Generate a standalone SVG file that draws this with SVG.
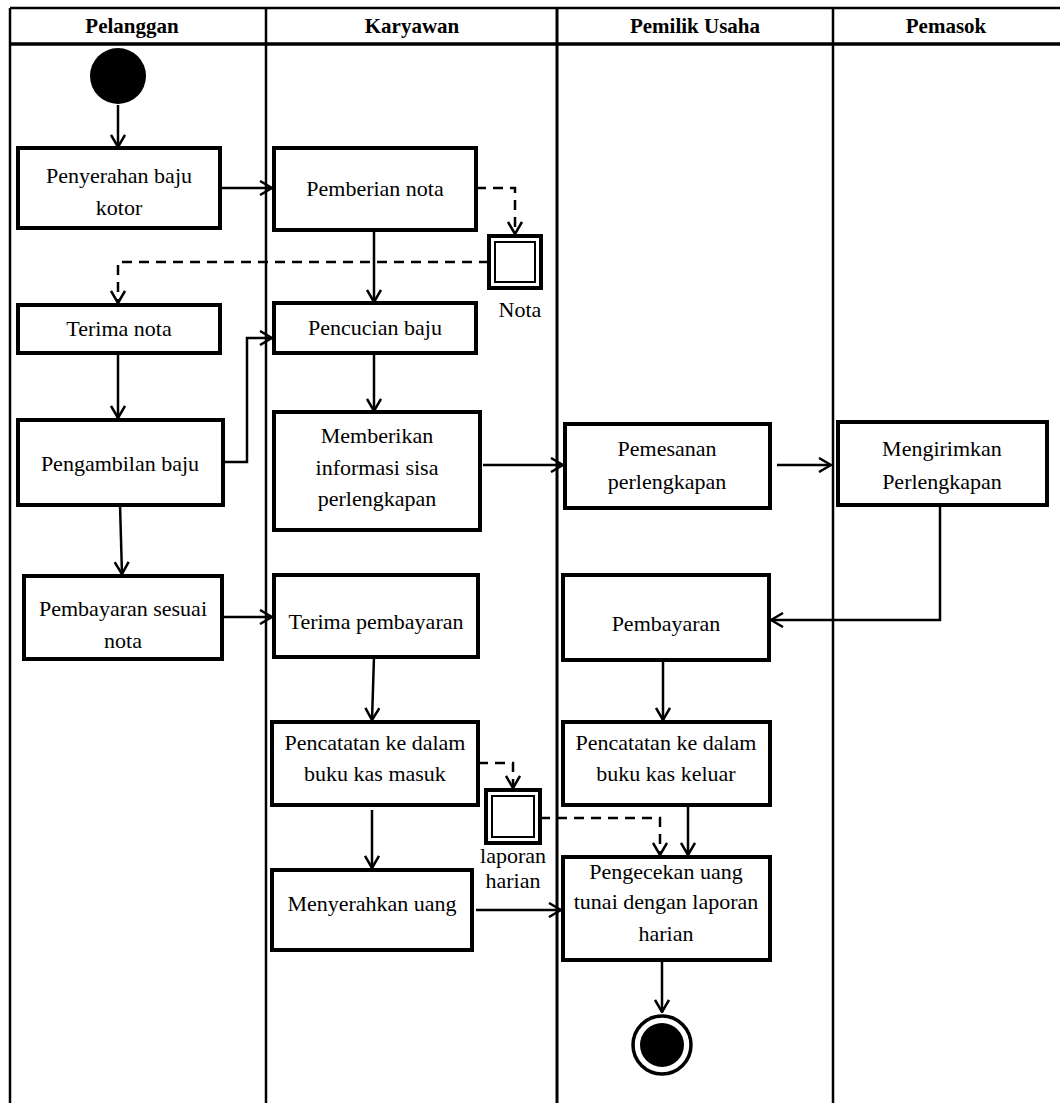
<svg xmlns="http://www.w3.org/2000/svg" width="1060" height="1103" viewBox="0 0 1060 1103">
<defs>
<marker id="ah" viewBox="0 0 14 16" refX="13" refY="8" markerWidth="14" markerHeight="16" markerUnits="userSpaceOnUse" orient="auto">
<path d="M1,1 L13,8 L1,15" fill="none" stroke="#000" stroke-width="2.5"/>
</marker>
</defs>
<rect width="1060" height="1103" fill="#fff"/>
<g id="lanes" stroke="#000" stroke-width="2.5" fill="none">
<line x1="10" y1="8" x2="1060" y2="8"/>
<line x1="10" y1="44" x2="1060" y2="44" stroke-width="3.5"/>
<line x1="10" y1="8" x2="10" y2="1103"/>
<line x1="266" y1="8" x2="266" y2="1103"/>
<line x1="557" y1="8" x2="557" y2="1103" stroke-width="3"/>
<line x1="833" y1="8" x2="833" y2="1103"/>
</g>
<text x="132" y="33" font-family="Liberation Serif" font-weight="bold" font-size="21" text-anchor="middle">Pelanggan</text>
<text x="412" y="33" font-family="Liberation Serif" font-weight="bold" font-size="21" text-anchor="middle">Karyawan</text>
<text x="695" y="33" font-family="Liberation Serif" font-weight="bold" font-size="21" text-anchor="middle">Pemilik Usaha</text>
<text x="946" y="33" font-family="Liberation Serif" font-weight="bold" font-size="21" text-anchor="middle">Pemasok</text>
<g id="connectors" stroke="#000" stroke-width="2.5" fill="none" marker-end="url(#ah)">
<path d="M118,105 L118,147"/>
<path d="M220,188 L272,188"/>
<path d="M476,188 L515,188 L515,234" stroke-dasharray="10 7"/>
<path d="M374,230 L374,302"/>
<path d="M489,262 L118,262 L118,303" stroke-dasharray="10 7"/>
<path d="M118,353 L118,418"/>
<path d="M223,462 L247,462 L247,338 L272,338"/>
<path d="M374,353 L374,411"/>
<path d="M483,465 L563,465"/>
<path d="M777,465 L831,465"/>
<path d="M940,505 L940,620 L771,620"/>
<path d="M120,505 L122,574"/>
<path d="M222,617 L272,617"/>
<path d="M374,657 L372,720"/>
<path d="M663,660 L663,720"/>
<path d="M478,763 L513,763 L513,788" stroke-dasharray="10 7"/>
<path d="M372,810 L372,868"/>
<path d="M540,818 L660,818 L660,855" stroke-dasharray="10 7"/>
<path d="M688,805 L688,855"/>
<path d="M476,910 L561,910"/>
<path d="M662,960 L662,1012"/>
</g>
<g id="start"><circle cx="118" cy="76" r="28" fill="#000"/></g>
<g id="n1"><rect x="18" y="148" width="202" height="80" fill="#fff" stroke="#000" stroke-width="4"/><text x="119" y="183" font-family="Liberation Serif" font-size="22" text-anchor="middle">Penyerahan baju</text><text x="119" y="215" font-family="Liberation Serif" font-size="22" text-anchor="middle">kotor</text></g>
<g id="n2"><rect x="274" y="148" width="202" height="82" fill="#fff" stroke="#000" stroke-width="4"/><text x="375" y="196" font-family="Liberation Serif" font-size="22" text-anchor="middle">Pemberian nota</text></g>
<g id="nota"><rect x="489" y="236" width="52" height="52" fill="#fff" stroke="#000" stroke-width="4"/><rect x="495" y="242" width="40" height="40" fill="#fff" stroke="#000" stroke-width="2"/><text x="520" y="317" font-family="Liberation Serif" font-size="22" text-anchor="middle">Nota</text></g>
<g id="n3"><rect x="18" y="305" width="202" height="48" fill="#fff" stroke="#000" stroke-width="4"/><text x="119" y="336" font-family="Liberation Serif" font-size="22" text-anchor="middle">Terima nota</text></g>
<g id="n4"><rect x="274" y="303" width="202" height="50" fill="#fff" stroke="#000" stroke-width="4"/><text x="375" y="335" font-family="Liberation Serif" font-size="22" text-anchor="middle">Pencucian baju</text></g>
<g id="n5"><rect x="18" y="420" width="205" height="85" fill="#fff" stroke="#000" stroke-width="4"/><text x="120" y="471" font-family="Liberation Serif" font-size="22" text-anchor="middle">Pengambilan baju</text></g>
<g id="n6"><rect x="274" y="412" width="206" height="118" fill="#fff" stroke="#000" stroke-width="4"/><text x="377" y="443" font-family="Liberation Serif" font-size="22" text-anchor="middle">Memberikan</text><text x="377" y="475" font-family="Liberation Serif" font-size="22" text-anchor="middle">informasi sisa</text><text x="377" y="506" font-family="Liberation Serif" font-size="22" text-anchor="middle">perlengkapan</text></g>
<g id="n7"><rect x="565" y="424" width="205" height="84" fill="#fff" stroke="#000" stroke-width="4"/><text x="667" y="456" font-family="Liberation Serif" font-size="22" text-anchor="middle">Pemesanan</text><text x="667" y="489" font-family="Liberation Serif" font-size="22" text-anchor="middle">perlengkapan</text></g>
<g id="n8"><rect x="838" y="422" width="209" height="83" fill="#fff" stroke="#000" stroke-width="4"/><text x="942" y="456" font-family="Liberation Serif" font-size="22" text-anchor="middle">Mengirimkan</text><text x="942" y="489" font-family="Liberation Serif" font-size="22" text-anchor="middle">Perlengkapan</text></g>
<g id="n9"><rect x="24" y="576" width="198" height="83" fill="#fff" stroke="#000" stroke-width="4"/><text x="123" y="616" font-family="Liberation Serif" font-size="22" text-anchor="middle">Pembayaran sesuai</text><text x="123" y="648" font-family="Liberation Serif" font-size="22" text-anchor="middle">nota</text></g>
<g id="n10"><rect x="274" y="575" width="204" height="82" fill="#fff" stroke="#000" stroke-width="4"/><text x="376" y="629" font-family="Liberation Serif" font-size="22" text-anchor="middle">Terima pembayaran</text></g>
<g id="n11"><rect x="563" y="575" width="206" height="85" fill="#fff" stroke="#000" stroke-width="4"/><text x="666" y="631" font-family="Liberation Serif" font-size="22" text-anchor="middle">Pembayaran</text></g>
<g id="n12"><rect x="272" y="722" width="206" height="83" fill="#fff" stroke="#000" stroke-width="4"/><text x="375" y="750" font-family="Liberation Serif" font-size="22" text-anchor="middle">Pencatatan ke dalam</text><text x="375" y="781" font-family="Liberation Serif" font-size="22" text-anchor="middle">buku kas masuk</text></g>
<g id="n13"><rect x="563" y="722" width="207" height="83" fill="#fff" stroke="#000" stroke-width="4"/><text x="666" y="750" font-family="Liberation Serif" font-size="22" text-anchor="middle">Pencatatan ke dalam</text><text x="666" y="781" font-family="Liberation Serif" font-size="22" text-anchor="middle">buku kas keluar</text></g>
<g id="laporan"><rect x="486" y="790" width="54" height="53" fill="#fff" stroke="#000" stroke-width="4"/><rect x="492" y="796" width="42" height="41" fill="#fff" stroke="#000" stroke-width="2"/><text x="513" y="863" font-family="Liberation Serif" font-size="22" text-anchor="middle">laporan</text><text x="513" y="888" font-family="Liberation Serif" font-size="22" text-anchor="middle">harian</text></g>
<g id="n14"><rect x="272" y="870" width="200" height="80" fill="#fff" stroke="#000" stroke-width="4"/><text x="372" y="911" font-family="Liberation Serif" font-size="22" text-anchor="middle">Menyerahkan uang</text></g>
<g id="n15"><rect x="563" y="857" width="207" height="103" fill="#fff" stroke="#000" stroke-width="4"/><text x="666" y="879" font-family="Liberation Serif" font-size="22" text-anchor="middle">Pengecekan uang</text><text x="666" y="909" font-family="Liberation Serif" font-size="22" text-anchor="middle">tunai dengan laporan</text><text x="666" y="941" font-family="Liberation Serif" font-size="22" text-anchor="middle">harian</text></g>
<g id="end"><circle cx="662" cy="1045" r="29" fill="#fff" stroke="#000" stroke-width="3.5"/><circle cx="662" cy="1045" r="22" fill="#000"/></g>
</svg>
